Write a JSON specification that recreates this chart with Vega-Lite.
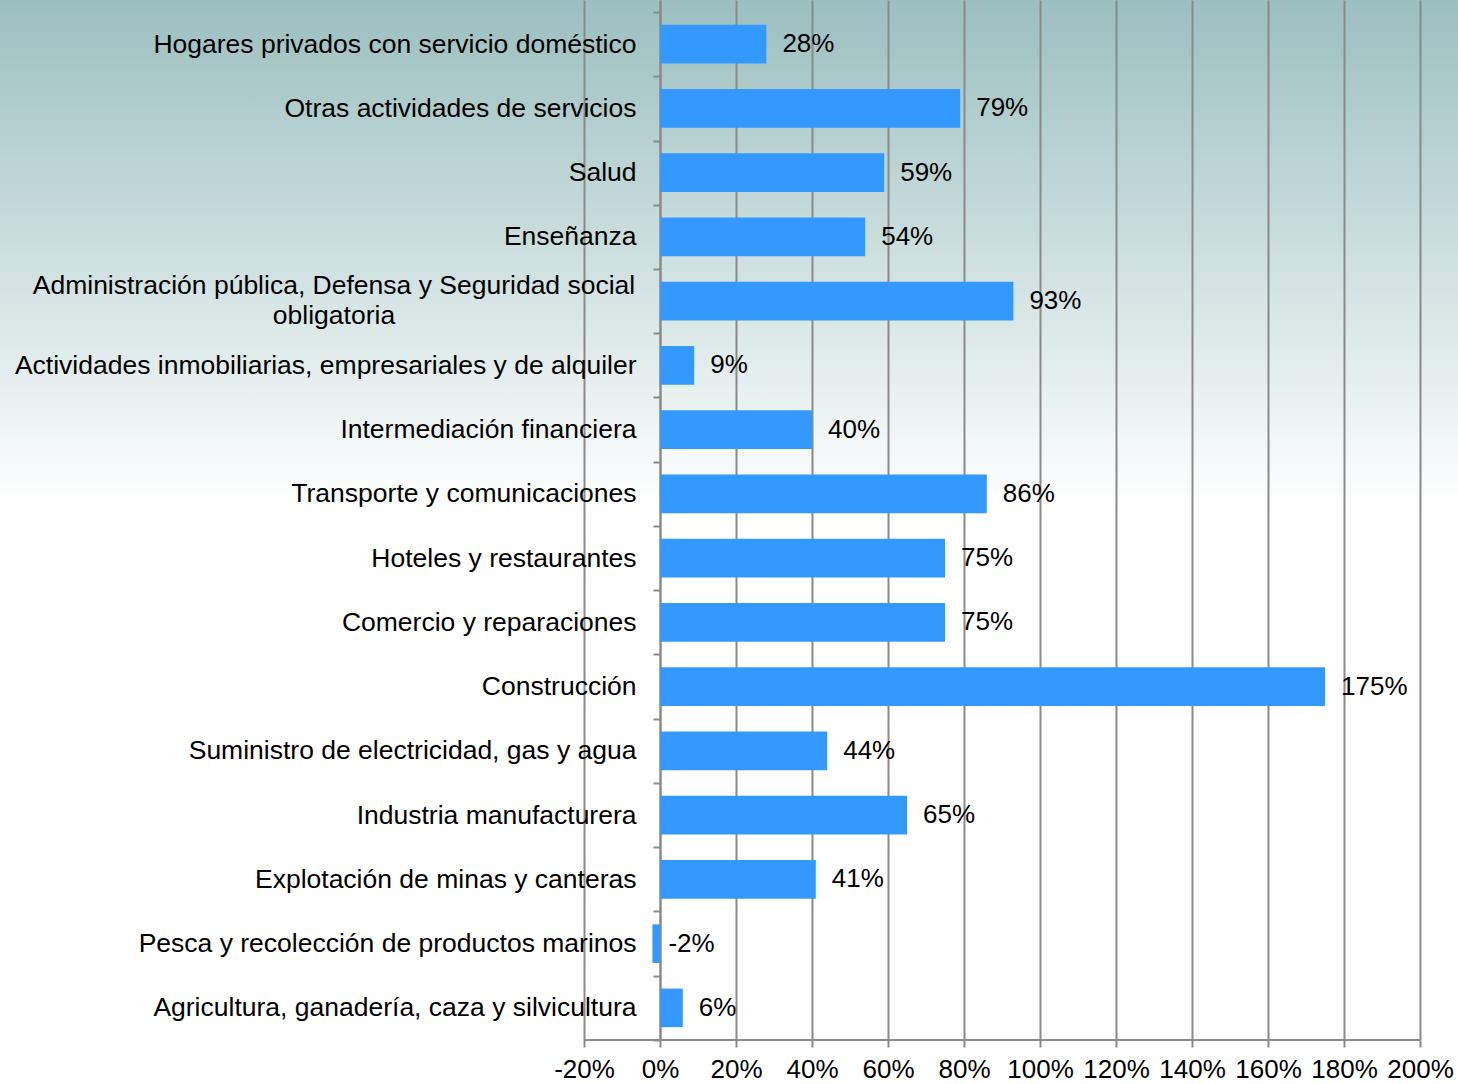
{
  "$schema": "https://vega.github.io/schema/vega-lite/v6.json",
  "width": 1458,
  "height": 1040,
  "autosize": {"type": "none"},
  "padding": {"left": 0, "top": 0, "right": 0, "bottom": 44},
  "background": "white",
  "config": {
    "font": "Liberation Sans",
    "locale": {
      "number": {"decimal": ".", "thousands": ",", "grouping": [3], "currency": ["", ""], "minus": "-", "percent": "%"}
    },
    "view": {
      "stroke": null,
      "fill": {
        "gradient": "linear",
        "x1": 0, "y1": 0, "x2": 0, "y2": 1,
        "stops": [
          {"offset": 0, "color": "#9bbfbf"},
          {"offset": 0.49, "color": "#ffffff"},
          {"offset": 1, "color": "#ffffff"}
        ]
      }
    },
    "text": {"lineBreak": "\n"}
  },
  "data": {
    "values": [
      {"cat": "Hogares privados con servicio doméstico", "value": 0.28},
      {"cat": "Otras actividades de servicios", "value": 0.79},
      {"cat": "Salud", "value": 0.59},
      {"cat": "Enseñanza", "value": 0.54},
      {"cat": "Administración pública, Defensa y Seguridad social\nobligatoria", "value": 0.93},
      {"cat": "Actividades inmobiliarias, empresariales y de alquiler", "value": 0.09},
      {"cat": "Intermediación financiera", "value": 0.40},
      {"cat": "Transporte y comunicaciones", "value": 0.86},
      {"cat": "Hoteles y restaurantes", "value": 0.75},
      {"cat": "Comercio y reparaciones", "value": 0.75},
      {"cat": "Construcción", "value": 1.75},
      {"cat": "Suministro de electricidad, gas y agua", "value": 0.44},
      {"cat": "Industria manufacturera", "value": 0.65},
      {"cat": "Explotación de minas y canteras", "value": 0.41},
      {"cat": "Pesca y recolección de productos marinos", "value": -0.02},
      {"cat": "Agricultura, ganadería, caza y silvicultura", "value": 0.06}
    ]
  },
  "encoding": {
    "y": {
      "field": "cat",
      "type": "nominal",
      "sort": null,
      "scale": {"paddingInner": 0.4, "paddingOuter": 0.2935, "align": 0.659},
      "axis": {
        "orient": "left",
        "offset": -660,
        "title": null,
        "grid": false,
        "domain": true,
        "domainColor": "#8a8a8a",
        "domainWidth": 2,
        "ticks": true,
        "tickSize": 7,
        "tickColor": "#8a8a8a",
        "tickWidth": 2,
        "bandPosition": 1.6667,
        "tickExtra": true,
        "tickOffset": -12.85,
        "labelOffset": 12.85,
        "labelPadding": 17,
        "labelFontSize": 26.5,
        "labelColor": "#000000",
        "labelLimit": 0,
        "labelExpr": "indexof(datum.label, 'obligatoria') >= 0 ? '' : datum.label"
      }
    }
  },
  "layer": [
    {
      "mark": {"type": "bar", "color": "#3399ff"},
      "encoding": {
        "x": {
          "field": "value",
          "type": "quantitative",
          "scale": {"domain": [-1.7368, 2.1], "nice": false, "zero": false},
          "axis": {
            "title": null,
            "values": [-0.2, 0, 0.2, 0.4, 0.6, 0.8, 1.0, 1.2, 1.4, 1.6, 1.8, 2.0],
            "format": ".0%",
            "grid": true,
            "gridColor": "#8a8a8a",
            "gridWidth": 2,
            "domain": false,
            "ticks": true,
            "tickSize": 7,
            "tickColor": "#8a8a8a",
            "tickWidth": 2,
            "labelFontSize": 26,
            "labelColor": "#000000",
            "labelPadding": 9
          }
        },
        "x2": {"datum": 0}
      }
    },
    {
      "mark": {"type": "text", "align": "left", "baseline": "middle", "dx": 16, "fontSize": 26, "color": "#000000"},
      "encoding": {
        "x": {"field": "value", "type": "quantitative"},
        "text": {"field": "value", "type": "quantitative", "format": ".0%"}
      }
    },
    {
      "transform": [{"filter": "indexof(datum.cat, 'obligatoria') >= 0"}],
      "mark": {"type": "text", "align": "center", "baseline": "middle", "dx": -326, "dy": -15, "fontSize": 26.5, "lineHeight": 30, "color": "#000000"},
      "encoding": {
        "x": {"datum": 0, "type": "quantitative"},
        "text": {"field": "cat", "type": "nominal"}
      }
    },
    {
      "data": {"values": [{"from": -0.2, "to": 2.0, "cat": "Agricultura, ganadería, caza y silvicultura"}]},
      "mark": {"type": "rule", "color": "#8a8a8a", "strokeWidth": 2, "yOffset": 32.1},
      "encoding": {
        "x": {"field": "from", "type": "quantitative"},
        "x2": {"field": "to"},
        "y": {"field": "cat", "type": "nominal", "sort": null}
      }
    }
  ]
}
